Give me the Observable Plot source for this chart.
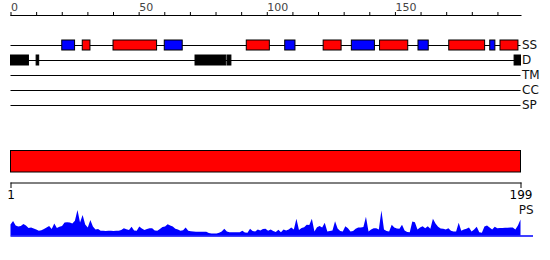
<!DOCTYPE html>
<html>
<head>
<meta charset="utf-8">
<script src="https://cdn.jsdelivr.net/npm/d3@7"></script>
<script src="https://cdn.jsdelivr.net/npm/@observablehq/plot@0.6"></script>
<style>
  html, body { margin: 0; padding: 0; background: #fff; }
  #chart { position: relative; width: 550px; height: 260px; font-family: "DejaVu Sans", sans-serif; }
  #chart svg { display: block; }
</style>
</head>
<body>
<div id="chart"></div>
<script>
// ---- data ----
const seqLength = 199;
const tracks = ["SS", "D", "TM", "CC", "SP"];
const topTicks = d3.range(0, 200, 10);
const topLabels = [0, 50, 100, 150];
const bottomTicks = [1, 199];

// secondary structure elements: [start, end, type]
const ssStart = [20, 28, 40, 60, 92, 107, 122, 133, 144, 159, 171, 187, 191];
const ssEnd   = [25, 31, 57, 67, 101, 111, 129, 142, 155, 163, 185, 189, 198];
const ssType  = ["E", "H", "H", "E", "H", "E", "H", "E", "H", "E", "H", "E", "H"];

// disordered regions
const dStart = [0, 10, 72, 84.5, 196.5];
const dEnd   = [7, 11, 84, 86, 199];

// consensus domain bar
const domStart = [1];
const domEnd = [199];

// PS profile, residues 1..199
const psValues = [
  11, 14.5, 10, 9, 9.5, 11.5, 10, 7.5, 8, 7,
  6, 4.7, 5.3, 6.5, 8, 9.5, 6.5, 12, 7.5, 8.7,
  9.5, 13, 13.3, 13, 12, 14.7, 25.5, 13, 20.5, 11,
  8, 15.5, 9, 6, 6.5, 4.7, 4.7, 4.5, 4.7, 4.7,
  4.5, 4.7, 4.7, 5.5, 7.3, 6.3, 5.5, 8.7, 5, 4.7,
  9, 7, 5.5, 6.5, 7.3, 7.3, 5, 4.7, 6.5, 8.5,
  9, 11.3, 10, 9, 6.7, 6, 4.7, 5.3, 8, 4.7,
  4.3, 4, 3.7, 3.7, 3.7, 3.7, 3.7, 2.5, 2, 2,
  2, 2.7, 4, 6.7, 4, 3.3, 3.3, 3.3, 3.3, 3.3,
  4.7, 3, 2.7, 6.7, 4.5, 4, 6, 5, 6.5, 6.7,
  4.7, 6, 4.5, 3.5, 5.7, 3.3, 6, 5, 6, 8,
  6, 16.7, 5.5, 7.5, 8.3, 10.7, 10.5, 16.7, 4, 8.3,
  9.5, 8, 12.7, 4, 4.5, 5, 14.3, 7, 4.5, 4,
  9.3, 7.3, 4, 4.5, 6.7, 8, 8, 8.5, 18.7, 4,
  6, 7.3, 7.3, 6, 25, 6, 4.5, 4, 10.7, 8,
  7, 6.7, 10.7, 5, 3.5, 3.3, 14, 13.3, 6, 8,
  9.3, 7.3, 9.3, 6.7, 16.7, 12, 8.7, 7, 6.7, 6,
  7.3, 4.7, 4, 4, 12.7, 4.7, 6, 6.7, 8, 4,
  6, 8.7, 3.3, 2.7, 9, 10, 8, 6, 8.7, 7.3,
  7.5, 7.5, 7.7, 7.7, 8, 8, 6, 10, 16
];
const psMax = 26;

// ---- derived tables ----
const ss = ssStart.map((s, i) => ({track: "SS", start: s, end: ssEnd[i], type: ssType[i]}));
const dis = dStart.map((s, i) => ({track: "D", start: s, end: dEnd[i]}));
const dom = domStart.map((s, i) => ({start: s, end: domEnd[i]}));
const ps = psValues.map((v, i) => ({res: i + 1, v}));

const W = 550;
const xRange = [10.5, 520.5];
const font = "DejaVu Sans, sans-serif";
const chart = document.getElementById("chart");

// ---- top panel: ruler + feature tracks ----
const p1 = Plot.plot({
  width: W, height: 115,
  marginLeft: 10.5, marginRight: 29.5, marginTop: 15, marginBottom: 2.5,
  style: {fontFamily: font, fontSize: "12px", background: "white", overflow: "visible"},
  x: {domain: [0, seqLength], range: xRange, axis: null},
  y: {type: "band", domain: tracks, range: [37.5, 112.5], paddingInner: 1/3, paddingOuter: 1/6, axis: null},
  marks: [
    Plot.frame({anchor: "top", stroke: "black"}),
    Plot.axisX(topTicks, {anchor: "top", tickSize: 4, tickFormat: () => "", stroke: "black"}),
    Plot.text(topLabels, {x: d => d, text: d => String(d), frameAnchor: "top", textAnchor: "start",
      lineAnchor: "bottom", dy: -5, fontSize: 11, fill: "#444"}),
    Plot.ruleY(tracks, {y: d => d, stroke: "black", strokeWidth: 1}),
    Plot.barX(ss, {y: "track", x1: "start", x2: "end",
      fill: d => d.type === "H" ? "#ff0000" : "#0000ff", stroke: "black", strokeWidth: 1}),
    Plot.barX(dis, {y: "track", x1: "start", x2: "end", fill: "black", stroke: "black", strokeWidth: 1}),
    Plot.text(tracks, {y: d => d, text: d => d, frameAnchor: "right", textAnchor: "start", dx: 1, fontSize: 12, fill: "#111"})
  ]
});

// ---- domain bar ----
const p2 = Plot.plot({
  width: W, height: 60,
  marginLeft: 10.5, marginRight: 29.5, marginTop: 35.5, marginBottom: 3,
  style: {background: "white"},
  x: {domain: [1, seqLength], range: xRange, axis: null},
  marks: [
    Plot.barX(dom, {x1: "start", x2: "end", fill: "#ff0000", stroke: "black", strokeWidth: 1})
  ]
});

// ---- residue axis ----
const p3 = Plot.plot({
  width: W, height: 30,
  marginLeft: 10.5, marginRight: 29.5, marginTop: 0, marginBottom: 22.5,
  style: {fontFamily: font, fontSize: "12px", background: "white", overflow: "visible"},
  x: {domain: [1, seqLength], range: xRange, axis: null},
  marks: [
    Plot.frame({anchor: "bottom", stroke: "black"}),
    Plot.axisX(bottomTicks, {anchor: "bottom", tickSize: 5.5, tickPadding: 2, fontSize: 12, fill: "black", stroke: "black"})
  ]
});

// ---- PS profile ----
const p4 = Plot.plot({
  width: W, height: 55,
  marginLeft: 10.5, marginRight: 17, marginTop: 4.5, marginBottom: 24.5,
  style: {fontFamily: font, fontSize: "12px", background: "white", overflow: "visible"},
  x: {domain: [1, seqLength], range: xRange, axis: null},
  y: {domain: [0, psMax], axis: null},
  marks: [
    Plot.areaY(ps, {x: "res", y: "v", fill: "#0000ff", curve: "linear"}),
    Plot.ruleY([0], {stroke: "#0000ff", strokeWidth: 1.5}),
    Plot.text(["PS"], {text: d => d, frameAnchor: "top-right", textAnchor: "end", lineAnchor: "middle", dy: 0.5, fontSize: 12, fill: "#111"})
  ]
});

for (const p of [p1, p2, p3, p4]) chart.appendChild(p);
</script>
</body>
</html>
